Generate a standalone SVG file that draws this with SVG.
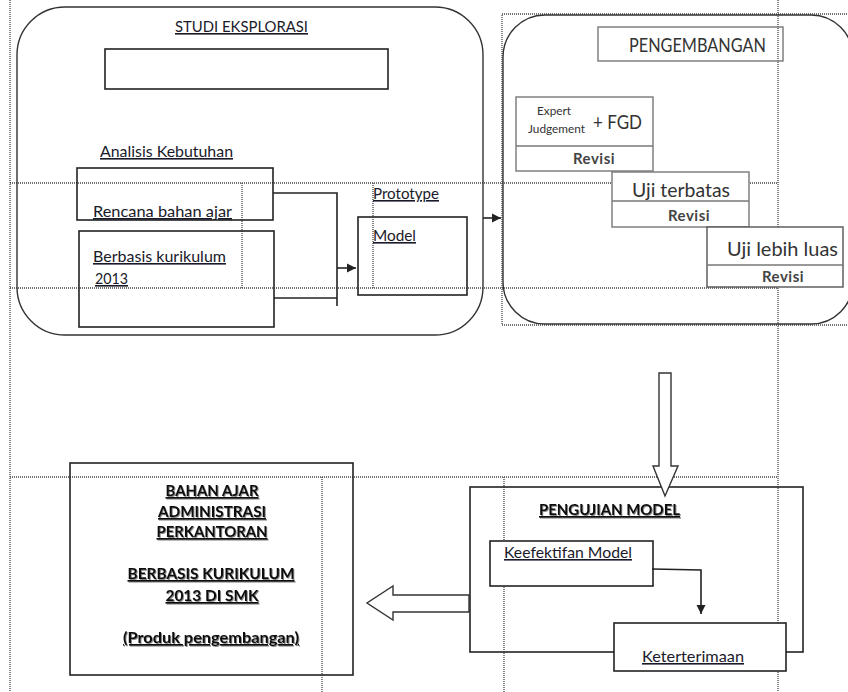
<svg xmlns="http://www.w3.org/2000/svg" width="848" height="692" viewBox="0 0 848 692">
<style>
.guide{fill:none;stroke:#444;stroke-width:1.3;stroke-dasharray:1 1}
.box{fill:none;stroke:#222;stroke-width:1.6}
.gbox{fill:none;stroke:#777;stroke-width:1.4}
.round{fill:none;stroke:#333;stroke-width:1.4}
.t{font-family:Lato,"Liberation Sans",sans-serif;font-size:16px;fill:#1a1a2a;text-decoration:underline}
.g{font-family:Lato,"Liberation Sans",sans-serif;fill:#333}
.rev{font-family:Lato,"Liberation Sans",sans-serif;font-size:15px;font-weight:bold;fill:#444;text-anchor:middle;letter-spacing:0.5px}
.b{font-family:Lato,"Liberation Sans",sans-serif;font-size:16px;font-weight:bold;fill:#111;text-decoration:underline;text-anchor:middle}
.line{fill:none;stroke:#222;stroke-width:1.6}
.hollow{fill:#fff;stroke:#333;stroke-width:1.4}
</style>
<defs>
<marker id="ah" markerUnits="userSpaceOnUse" markerWidth="10" markerHeight="10" refX="9" refY="5" orient="auto">
<path d="M0,0.5 L9,5 L0,9.5 Z" fill="#222"/>
</marker>
<filter id="sh" x="-5%" y="-20%" width="110%" height="140%">
<feDropShadow dx="1" dy="1" stdDeviation="0.4" flood-color="#000" flood-opacity="0.45"/>
</filter>
</defs>
<rect width="848" height="692" fill="#fff"/>

<g id="guides">
<line class="guide" x1="10" y1="0" x2="10" y2="692"/>
<line class="guide" x1="10" y1="183" x2="778" y2="183"/>
<line class="guide" x1="10" y1="288" x2="778" y2="288"/>
<line class="guide" x1="242" y1="183" x2="242" y2="288"/>
<line class="guide" x1="373" y1="183" x2="373" y2="288"/>
<rect class="guide" x="502" y="14" width="350" height="311"/>
<line class="guide" x1="778" y1="0" x2="778" y2="692"/>
<line class="guide" x1="10" y1="477" x2="778" y2="477"/>
<line class="guide" x1="322" y1="477" x2="322" y2="692"/>
<line class="guide" x1="504" y1="477" x2="504" y2="692"/>
</g>

<g id="studi-eksplorasi">
<rect class="round" x="17" y="7" width="466" height="328" rx="48" ry="48"/>
<text class="t" x="175" y="32" textLength="133" lengthAdjust="spacingAndGlyphs">STUDI EKSPLORASI</text>
<rect class="box" x="105" y="49" width="283" height="40"/>
</g>

<g id="analisis-kebutuhan">
<text class="t" x="100" y="157" textLength="133" lengthAdjust="spacingAndGlyphs">Analisis Kebutuhan</text>
<rect class="box" x="77" y="168" width="196" height="52"/>
<text class="t" x="93" y="217" textLength="139" lengthAdjust="spacingAndGlyphs">Rencana bahan ajar</text>
</g>

<g id="berbasis-kurikulum">
<rect class="box" x="79" y="231" width="195" height="96"/>
<text class="t" x="93" y="262" textLength="133" lengthAdjust="spacingAndGlyphs">Berbasis kurikulum</text>
<text class="t" x="95" y="284" textLength="33" lengthAdjust="spacingAndGlyphs">2013</text>
</g>

<g id="prototype-model">
<text class="t" x="373" y="199" textLength="66" lengthAdjust="spacingAndGlyphs">Prototype</text>
<rect class="box" x="358" y="217" width="109" height="78"/>
<text class="t" x="373" y="241" textLength="43" lengthAdjust="spacingAndGlyphs">Model</text>
</g>

<g id="pengembangan">
<rect class="round" x="503" y="15" width="350" height="309" rx="42" ry="42" stroke="#555"/>
<rect class="gbox" x="598" y="27" width="185" height="34"/>
<text class="g" x="629" y="52" font-size="19" textLength="137" lengthAdjust="spacingAndGlyphs">PENGEMBANGAN</text>
</g>

<g id="expert-fgd">
<rect class="gbox" x="516" y="97" width="137" height="74"/>
<line class="gbox" x1="516" y1="146" x2="653" y2="146"/>
<text class="g" x="537" y="115" font-size="11" textLength="34" lengthAdjust="spacingAndGlyphs">Expert</text>
<text class="g" x="528" y="133" font-size="11" textLength="57" lengthAdjust="spacingAndGlyphs">Judgement</text>
<text class="g" x="593" y="129" font-size="19" textLength="49" lengthAdjust="spacingAndGlyphs">+ FGD</text>
<text class="rev" x="594" y="164">Revisi</text>
</g>

<g id="uji-terbatas">
<rect class="gbox" x="612" y="172" width="137" height="55" style="fill:#fff"/>
<line class="gbox" x1="612" y1="201" x2="749" y2="201"/>
<text class="g" x="632" y="197" font-size="19" textLength="98" lengthAdjust="spacingAndGlyphs">Uji terbatas</text>
<text class="rev" x="689" y="221">Revisi</text>
</g>

<g id="uji-lebih-luas">
<rect class="gbox" x="707" y="227" width="136" height="60" style="fill:#fff;stroke:#555"/>
<line class="gbox" x1="707" y1="265" x2="843" y2="265"/>
<text class="g" x="727" y="256" font-size="19" textLength="111" lengthAdjust="spacingAndGlyphs">Uji lebih luas</text>
<text class="rev" x="783" y="282">Revisi</text>
</g>

<g id="bahan-ajar">
<rect class="box" x="70" y="463" width="283" height="212"/>
<g filter="url(#sh)">
<text class="b" x="212" y="496" textLength="93" lengthAdjust="spacingAndGlyphs">BAHAN AJAR</text>
<text class="b" x="212" y="517" textLength="108" lengthAdjust="spacingAndGlyphs">ADMINISTRASI</text>
<text class="b" x="212" y="537" textLength="111" lengthAdjust="spacingAndGlyphs">PERKANTORAN</text>
<text class="b" x="211" y="579" textLength="167" lengthAdjust="spacingAndGlyphs">BERBASIS KURIKULUM</text>
<text class="b" x="212" y="601" textLength="93" lengthAdjust="spacingAndGlyphs">2013 DI SMK</text>
<text class="b" x="211" y="643" textLength="176" lengthAdjust="spacingAndGlyphs">(Produk pengembangan)</text>
</g>
</g>

<g id="pengujian-model">
<rect class="box" x="470" y="487" width="333" height="165"/>
<text class="b" x="539" y="515" textLength="141" lengthAdjust="spacingAndGlyphs" style="text-anchor:start" filter="url(#sh)">PENGUJIAN MODEL</text>
</g>

<g id="keefektifan-model">
<rect class="box" x="490" y="541" width="163" height="45" style="fill:#fff"/>
<text class="t" x="504" y="558" textLength="128" lengthAdjust="spacingAndGlyphs">Keefektifan Model</text>
</g>

<g id="keterterimaan">
<rect class="box" x="614" y="623" width="172" height="48" style="fill:#fff"/>
<text class="t" x="642" y="662" textLength="102" lengthAdjust="spacingAndGlyphs">Keterterimaan</text>
</g>

<g id="connectors">
<polyline class="line" points="273,193 337,193 337,306"/>
<line class="line" x1="274" y1="298" x2="337" y2="298"/>
<line class="line" x1="337" y1="268" x2="356" y2="268" marker-end="url(#ah)"/>
<line class="line" x1="483" y1="218" x2="501" y2="218" marker-end="url(#ah)"/>
<polyline class="line" points="652,569 701,570 701,614" marker-end="url(#ah)"/>
<polygon class="hollow" points="659,373 671,373 671,466 678,466 665,496 653,466 659,466"/>
<polygon class="hollow" points="469,595 393,595 393,586 367,603 393,620 393,612 469,612"/>
</g>
</svg>
